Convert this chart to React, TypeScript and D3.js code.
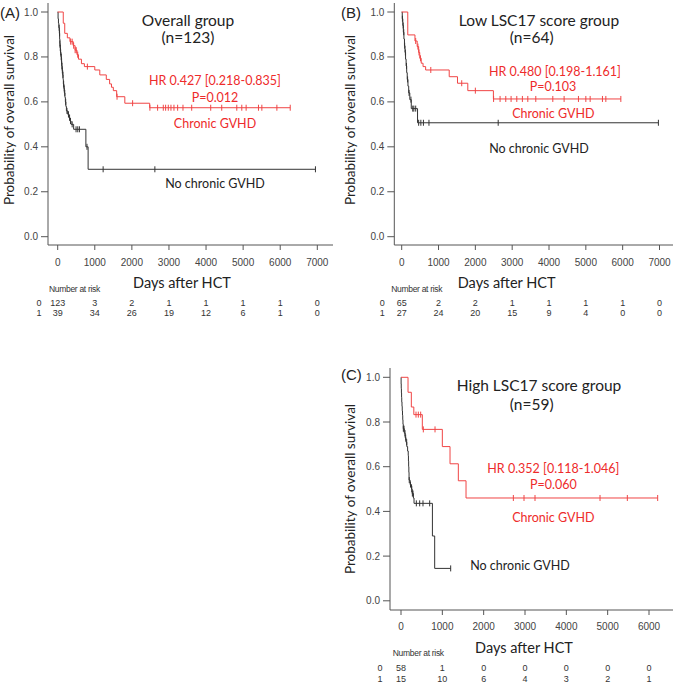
import React from "react";
import * as d3 from "d3";

// ---------- data ----------
const yTicks = [0, 0.2, 0.4, 0.6, 0.8, 1.0];
const xTicksAB = [0, 1000, 2000, 3000, 4000, 5000, 6000, 7000];
const xTicksC = [0, 1000, 2000, 3000, 4000, 5000, 6000];

// Panel A – overall group
const aRedSteps: [number, number][] = [
  [150, 0.95], [190, 0.905], [260, 0.885], [330, 0.868], [420, 0.85], [470, 0.83],
  [520, 0.81], [560, 0.79], [640, 0.77], [720, 0.757], [1000, 0.742], [1135, 0.72],
  [1310, 0.70], [1400, 0.68], [1450, 0.665], [1500, 0.65], [1590, 0.623], [1810, 0.594], [2480, 0.574],
];
const aRedCensor = [350, 390, 430, 470, 500, 540, 800, 1600, 2020, 2486, 2694, 2847, 2910, 2982, 3054, 3135, 3234, 3378, 3613, 4126, 4423, 4829, 4964, 5081, 5414, 5505, 5910, 6270];
const aRedEnd = 6270;
const aBlackSteps: [number, number][] = [
  [10, 0.97], [20, 0.95], [30, 0.93], [45, 0.905], [52, 0.88], [58, 0.86], [65, 0.84], [75, 0.82],
  [90, 0.80], [100, 0.78], [108, 0.76], [120, 0.74], [135, 0.72], [145, 0.70], [153, 0.68], [165, 0.66],
  [180, 0.64], [195, 0.62], [207, 0.60], [220, 0.58], [235, 0.56], [270, 0.545], [300, 0.53], [330, 0.515],
  [360, 0.50], [430, 0.478], [760, 0.40], [820, 0.30],
];
const aBlackCensor = [40, 50, 60, 70, 80, 95, 105, 115, 125, 140, 160, 175, 190, 215, 250, 290, 320, 345, 390, 495, 541, 586, 790, 1225, 2620, 6950];
const aBlackEnd = 6950;
const riskA0 = [123, 3, 2, 1, 1, 1, 1, 0];
const riskA1 = [39, 34, 26, 19, 12, 6, 1, 0];

// Panel B – low LSC17
const bRedSteps: [number, number][] = [
  [165, 0.898], [360, 0.871], [420, 0.846], [460, 0.82], [490, 0.794], [530, 0.772], [580, 0.757],
  [650, 0.742], [1290, 0.712], [1515, 0.683], [1795, 0.65], [2490, 0.613],
];
const bRedCensor = [380, 440, 470, 510, 790, 1630, 2000, 2495, 2671, 2826, 2970, 3125, 3277, 3424, 3641, 4103, 4410, 4799, 5000, 5117, 5451, 5543, 5950];
const bRedEnd = 5950;
const bBlackSteps: [number, number][] = [
  [15, 0.97], [30, 0.94], [45, 0.91], [60, 0.88], [75, 0.85], [90, 0.82], [105, 0.79], [120, 0.76],
  [135, 0.73], [150, 0.70], [170, 0.67], [190, 0.64], [220, 0.61], [260, 0.57], [430, 0.507],
];
const bBlackCensor = [20, 40, 55, 80, 100, 130, 160, 200, 250, 300, 330, 380, 460, 520, 590, 740, 2620, 6970];
const bBlackEnd = 6970;
const riskB0 = [65, 2, 2, 1, 1, 1, 1, 0];
const riskB1 = [27, 24, 20, 15, 9, 4, 0, 0];

// Panel C – high LSC17
const cRedSteps: [number, number][] = [
  [170, 0.933], [250, 0.867], [310, 0.833], [516, 0.767], [1000, 0.69], [1186, 0.613], [1387, 0.537], [1573, 0.46],
];
const cRedCensor = [363, 419, 476, 540, 823, 2718, 2976, 3242, 4815, 5476, 6210];
const cRedEnd = 6210;
const cBlackSteps: [number, number][] = [
  [3, 0.97], [6, 0.95], [10, 0.93], [14, 0.91], [18, 0.89], [24, 0.87], [30, 0.85], [36, 0.83],
  [42, 0.81], [48, 0.79], [55, 0.77], [80, 0.75], [100, 0.73], [120, 0.71], [140, 0.69], [160, 0.67],
  [175, 0.65], [180, 0.625], [185, 0.60], [190, 0.575], [195, 0.54], [220, 0.52], [255, 0.50],
  [270, 0.48], [300, 0.46], [315, 0.436], [760, 0.29], [815, 0.145],
];
const cBlackCensor = [57, 73, 97, 113, 137, 200, 230, 260, 275, 290, 371, 452, 532, 694, 1202];
const cBlackEnd = 1202;
const riskC0 = [58, 1, 0, 0, 0, 0, 0];
const riskC1 = [15, 10, 6, 4, 3, 2, 1];

// ---------- styles ----------
const RED = "#ee2b2b";
const RED_LINE = "#f04545";
const BLACK_LINE = "#333333";
const AXIS = "#555555";
const TICK_TXT = "#444444";
const SANS = "Lato, 'Open Sans', sans-serif";
const ARIAL = "'Liberation Sans', Arial, sans-serif";

type Curve = { steps: [number, number][]; censor: number[]; end: number; color: string };

function survAt(steps: [number, number][], t: number) {
  let s = 1;
  for (const [tt, v] of steps) if (tt <= t) s = v;
  return s;
}

type PanelProps = {
  letter: string;
  title: string;
  n: string;
  hr: string;
  p: string;
  xDomainMax: number;
  xRange: [number, number];
  yRange: [number, number]; // y(0), y(1)
  axisX: number;
  axisTop: number;
  axisY: number;
  axisRight: number;
  xTicks: number[];
  curves: Curve[];
  risk0: number[];
  risk1: number[];
  letterPos: [number, number];
  titlePos: [number, number];
  nPos: [number, number];
  hrPos: [number, number];
  pPos: [number, number];
  chronicPos: [number, number];
  noChronicPos: [number, number];
  yLabelPos: [number, number];
  daysPos: [number, number];
  narPos: [number, number];
  rowLabelX: number;
  rowY: [number, number];
  tickLabelY: number;
};

function Panel(pp: PanelProps) {
  const x = d3.scaleLinear().domain([0, pp.xDomainMax]).range(pp.xRange);
  const y = d3.scaleLinear().domain([0, 1]).range(pp.yRange);
  const line = d3
    .line<[number, number]>()
    .x((d) => x(d[0]))
    .y((d) => y(d[1]))
    .curve(d3.curveStepAfter);
  return (
    <g>
      {/* axes */}
      <line x1={pp.axisX} x2={pp.axisX} y1={pp.axisTop} y2={pp.axisY} stroke={AXIS} strokeWidth={1} />
      <line x1={pp.axisX} x2={pp.axisRight} y1={pp.axisY} y2={pp.axisY} stroke={AXIS} strokeWidth={1} />
      {yTicks.map((t) => (
        <g key={"y" + t}>
          <line x1={pp.axisX - 7} x2={pp.axisX} y1={y(t)} y2={y(t)} stroke={AXIS} />
          <text x={pp.axisX - 10} y={y(t)} textAnchor="end" dominantBaseline="central" fontFamily={ARIAL} fontSize={10} fill={TICK_TXT}>
            {d3.format(".1f")(t)}
          </text>
        </g>
      ))}
      {pp.xTicks.map((t) => (
        <g key={"x" + t}>
          <line x1={x(t)} x2={x(t)} y1={pp.axisY} y2={pp.axisY + 5} stroke={AXIS} />
          <text x={x(t)} y={pp.tickLabelY} textAnchor="middle" dominantBaseline="central" fontFamily={ARIAL} fontSize={10} fill={TICK_TXT}>
            {t}
          </text>
        </g>
      ))}
      {/* curves */}
      {pp.curves.map((c, i) => {
        const last = c.steps[c.steps.length - 1][1];
        const pts: [number, number][] = [[0, 1], ...c.steps, [c.end, last]];
        return (
          <g key={"c" + i}>
            <path d={line(pts) || ""} fill="none" stroke={c.color} strokeWidth={1} />
            {c.censor.map((t, j) => {
              const s = survAt(c.steps, t);
              return <line key={j} x1={x(t)} x2={x(t)} y1={y(s) - 3} y2={y(s) + 3} stroke={c.color} strokeWidth={1} />;
            })}
          </g>
        );
      })}
      {/* labels */}
      <text x={pp.letterPos[0]} y={pp.letterPos[1]} dominantBaseline="central" fontFamily={ARIAL} fontSize={15} fill="#222">
        {pp.letter}
      </text>
      <text x={pp.titlePos[0]} y={pp.titlePos[1]} textAnchor="middle" dominantBaseline="central" fontFamily={SANS} fontSize={15.5} fill="#222">
        {pp.title}
      </text>
      <text x={pp.nPos[0]} y={pp.nPos[1]} textAnchor="middle" dominantBaseline="central" fontFamily={SANS} fontSize={15.5} fill="#222">
        {pp.n}
      </text>
      <text x={pp.hrPos[0]} y={pp.hrPos[1]} textAnchor="middle" dominantBaseline="central" fontFamily={SANS} fontSize={12.5} fill={RED}>
        {pp.hr}
      </text>
      <text x={pp.pPos[0]} y={pp.pPos[1]} textAnchor="middle" dominantBaseline="central" fontFamily={SANS} fontSize={12.5} fill={RED}>
        {pp.p}
      </text>
      <text x={pp.chronicPos[0]} y={pp.chronicPos[1]} textAnchor="middle" dominantBaseline="central" fontFamily={SANS} fontSize={12.5} fill={RED}>
        Chronic GVHD
      </text>
      <text x={pp.noChronicPos[0]} y={pp.noChronicPos[1]} textAnchor="middle" dominantBaseline="central" fontFamily={SANS} fontSize={12.5} fill="#222">
        No chronic GVHD
      </text>
      <text
        transform={`translate(${pp.yLabelPos[0]},${pp.yLabelPos[1]}) rotate(-90)`}
        textAnchor="middle"
        dominantBaseline="central"
        fontFamily={SANS}
        fontSize={13.5}
        fill="#222"
      >
        Probability of overall survival
      </text>
      <text x={pp.daysPos[0]} y={pp.daysPos[1]} textAnchor="middle" dominantBaseline="central" fontFamily={SANS} fontSize={14.5} fill="#222">
        Days after HCT
      </text>
      <text x={pp.narPos[0]} y={pp.narPos[1]} textAnchor="middle" dominantBaseline="central" fontFamily={ARIAL} fontSize={8.5} fill="#333" letterSpacing={-0.3}>
        Number at risk
      </text>
      {[pp.risk0, pp.risk1].map((row, r) => (
        <g key={"r" + r}>
          <text x={pp.rowLabelX} y={pp.rowY[r]} textAnchor="middle" dominantBaseline="central" fontFamily={ARIAL} fontSize={9} fill="#333">
            {r}
          </text>
          {row.map((v, k) => (
            <text key={k} x={x(pp.xTicks[k])} y={pp.rowY[r]} textAnchor="middle" dominantBaseline="central" fontFamily={ARIAL} fontSize={9} fill="#333">
              {v}
            </text>
          ))}
        </g>
      ))}
    </g>
  );
}

export default function App() {
  return (
    <svg width={673} height={684} style={{ position: "absolute", left: 0, top: 0, background: "#fff" }}>
      <Panel
        letter="(A)"
        title="Overall group"
        n="(n=123)"
        hr="HR 0.427 [0.218-0.835]"
        p="P=0.012"
        xDomainMax={7000}
        xRange={[57.7, 317.3]}
        yRange={[236.7, 12]}
        axisX={48}
        axisTop={3}
        axisY={245}
        axisRight={333}
        xTicks={xTicksAB}
        curves={[
          { steps: aBlackSteps, censor: aBlackCensor, end: aBlackEnd, color: BLACK_LINE },
          { steps: aRedSteps, censor: aRedCensor, end: aRedEnd, color: RED_LINE },
        ]}
        risk0={riskA0}
        risk1={riskA1}
        letterPos={[0, 12]}
        titlePos={[188, 20]}
        nPos={[188, 36.5]}
        hrPos={[215, 80]}
        pPos={[215, 97]}
        chronicPos={[215, 123]}
        noChronicPos={[215, 183]}
        yLabelPos={[9, 120]}
        daysPos={[182, 282]}
        narPos={[74.5, 288.5]}
        rowLabelX={39}
        rowY={[303.3, 312.8]}
        tickLabelY={262}
      />
      <Panel
        letter="(B)"
        title="Low LSC17 score group"
        n="(n=64)"
        hr="HR 0.480 [0.198-1.161]"
        p="P=0.103"
        xDomainMax={7000}
        xRange={[401.7, 659.5]}
        yRange={[236.7, 12]}
        axisX={394.3}
        axisTop={3}
        axisY={245}
        axisRight={673}
        xTicks={xTicksAB}
        curves={[
          { steps: bBlackSteps, censor: bBlackCensor, end: bBlackEnd, color: BLACK_LINE },
          { steps: bRedSteps, censor: bRedCensor, end: bRedEnd, color: RED_LINE },
        ]}
        risk0={riskB0}
        risk1={riskB1}
        letterPos={[341, 12]}
        titlePos={[539, 20]}
        nPos={[531.7, 36.5]}
        hrPos={[555, 71]}
        pPos={[553, 86.5]}
        chronicPos={[553.3, 113]}
        noChronicPos={[539, 148.5]}
        yLabelPos={[350, 120]}
        daysPos={[506.7, 282]}
        narPos={[416.7, 288.5]}
        rowLabelX={382.3}
        rowY={[303.3, 312.8]}
        tickLabelY={262}
      />
      <Panel
        letter="(C)"
        title="High LSC17 score group"
        n="(n=59)"
        hr="HR 0.352 [0.118-1.046]"
        p="P=0.060"
        xDomainMax={6000}
        xRange={[401, 649]}
        yRange={[600.8, 377.3]}
        axisX={390}
        axisTop={368}
        axisY={610}
        axisRight={673}
        xTicks={xTicksC}
        curves={[
          { steps: cBlackSteps, censor: cBlackCensor, end: cBlackEnd, color: BLACK_LINE },
          { steps: cRedSteps, censor: cRedCensor, end: cRedEnd, color: RED_LINE },
        ]}
        risk0={riskC0}
        risk1={riskC1}
        letterPos={[341, 374.3]}
        titlePos={[539, 384.5]}
        nPos={[531.7, 403.5]}
        hrPos={[553.3, 468.5]}
        pPos={[553.3, 484]}
        chronicPos={[553.3, 517]}
        noChronicPos={[520, 565]}
        yLabelPos={[350, 489]}
        daysPos={[524, 647]}
        narPos={[418.3, 653]}
        rowLabelX={380}
        rowY={[668, 679]}
        tickLabelY={626}
      />
    </svg>
  );
}
